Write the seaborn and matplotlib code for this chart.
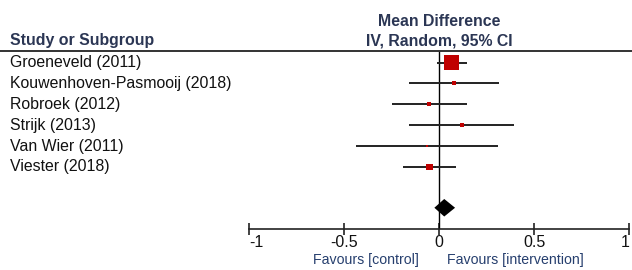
import matplotlib
matplotlib.use("Agg")
import matplotlib.pyplot as plt
import seaborn as sns
import pandas as pd
import numpy as np

studies = ["Groeneveld (2011)", "Kouwenhoven-Pasmooij (2018)", "Robroek (2012)",
           "Strijk (2013)", "Van Wier (2011)", "Viester (2018)"]
mean_diff = [0.065, 0.076, -0.054, 0.118, -0.065, -0.054]
ci_low = [-0.014, -0.158, -0.249, -0.158, -0.440, -0.193]
ci_high = [0.147, 0.316, 0.147, 0.393, 0.310, 0.086]
weights = [68.7, 4.9, 4.9, 4.9, 1.9, 14.7]
pooled = [0.026, -0.026, 0.083]  # estimate, low, high
tick_values = [-1, -0.5, 0, 0.5, 1]
tick_labels = ["-1", "-0.5", "0", "0.5", "1"]

sns.set_theme(style="white")
plt.rcParams['font.family'] = ['Liberation Sans', 'DejaVu Sans']

W, H = 632, 270
fig = plt.figure(figsize=(W / 100, H / 100), dpi=100)

def fx(px):
    return px / W

def fy(py):
    return 1 - py / H

x0, x1 = 249.3, 629.3
ytop, ybot = 51.0, 229.0
ax = fig.add_axes([fx(x0), fy(ybot), fx(x1) - fx(x0), fy(ytop) - fy(ybot)])
ax.set_xlim(-1, 1)
row_px0, row_step = 62.5, 20.9
ax.set_ylim((ybot - row_px0) / row_step, (ytop - row_px0) / row_step)
ax.patch.set_alpha(0)

df = pd.DataFrame({"study": studies, "md": mean_diff, "lo": ci_low, "hi": ci_high,
                   "w": weights, "row": np.arange(len(studies))})

ax.axvline(0, color="black", lw=1.0, zorder=1)
ax.hlines(df["row"], df["lo"], df["hi"], color="#222222", lw=1.4, zorder=2)
sns.scatterplot(data=df, x="md", y="row", size="w", sizes=(3.5, 117), marker="s",
                color="#c00000", edgecolor="none", legend=False, ax=ax, zorder=3)

drow = len(studies) + 0.95
est, lo, hi = pooled
ax.fill([lo, est, hi, est], [drow, drow - 0.42, drow, drow + 0.42],
        color="black", zorder=4, lw=0)

for s in ["top", "right", "left"]:
    ax.spines[s].set_visible(False)
ax.spines["bottom"].set_color("#222222")
ax.spines["bottom"].set_linewidth(1.2)
ax.set_xticks(tick_values)
ax.set_xticklabels(tick_labels)
ax.set_yticks([])
ax.tick_params(axis="x", bottom=True, direction="inout", length=9, width=1.2,
               color="#222222", labelsize=11.5, pad=0, labelcolor="#111111")
ax.get_xticklabels()[-1].set_horizontalalignment("right")
ax.get_xticklabels()[0].set_horizontalalignment("left")
ax.set_xlabel("")
ax.set_ylabel("")

# study labels
for i, s in enumerate(studies):
    fig.text(fx(10), fy(row_px0 + row_step * i), s, fontsize=11.4, color="#111111",
             ha="left", va="center")

hdr = "#2b3654"
fig.text(fx(10), fy(41), "Study or Subgroup", fontsize=11.4, fontweight="bold",
         color=hdr, ha="left", va="center")
fig.text(fx(439.3), fy(22), "Mean Difference", fontsize=11.4, fontweight="bold",
         color=hdr, ha="center", va="center")
fig.text(fx(439.3), fy(41), "IV, Random, 95% CI", fontsize=11.4, fontweight="bold",
         color=hdr, ha="center", va="center")
fig.add_artist(plt.Line2D([0, 1], [fy(51), fy(51)], color="#333333", lw=1.4,
                          transform=fig.transFigure))

fav = "#263f6e"
fig.text(fx(419), fy(260), "Favours [control]", fontsize=10.2, color=fav,
         ha="right", va="center")
fig.text(fx(447), fy(260), "Favours [intervention]", fontsize=10.2, color=fav,
         ha="left", va="center")

fig.savefig("out.png", dpi=100, facecolor="white")
